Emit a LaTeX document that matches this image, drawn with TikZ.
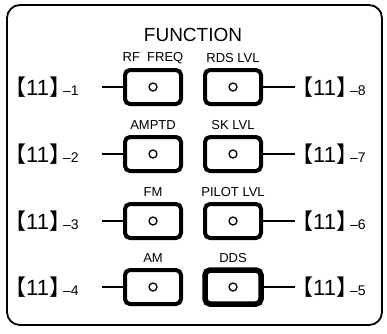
\documentclass[tikz,border=0pt]{standalone}
\usepackage{fontspec}
\setmainfont{Liberation Sans}
\newfontfamily\cjkfont{Noto Sans CJK SC}
\newcommand\reftag[1]{{\fontsize{22}{24}\selectfont{\cjkfont\kern-0.5em【}11{\cjkfont 】\kern-0.5em}}{\fontsize{14}{14}\selectfont\kern3pt–#1}}
\begin{document}
\begin{tikzpicture}[x=1pt,y=-1pt,
  btn/.style={draw,line width=4pt,rounded corners=5pt,minimum width=56pt,minimum height=34pt,inner sep=0pt},
  dot/.style={circle,draw,line width=1.3pt,minimum size=8pt,inner sep=0pt},
  blabel/.style={font=\fontsize{13}{14}\selectfont,inner sep=0pt},
  tagl/.style={anchor=west,inner sep=0pt},
  tagr/.style={anchor=west,inner sep=0pt},
  conn/.style={line width=1.3pt}]
\useasboundingbox (0,0) rectangle (387,333);
\draw[line width=1.8pt,rounded corners=13pt] (7,5) rectangle (382,325);
\node[font=\fontsize{19}{20}\selectfont,inner sep=0pt] (title) at (193,35) {FUNCTION};
\foreach \i/\y/\lab in {1/87/{RF\ \ FREQ},2/154/{AMPTD},3/221/{FM},4/287/{AM}}{
  \node[btn] (b\i) at (153,\y) {};
  \node[dot] (c\i) at (b\i.center) {};
  \node[blabel] (n\i) at (153,\y-29) {\lab};
  \node[tagl] (t\i) at (15,\y) {\reftag{\i}};
  \coordinate (s\i) at (102,\y);
  \draw[conn] (s\i) -- (b\i.west);
}
\foreach \i/\y/\lab/\w in {8/87/{RDS LVL}/4pt,7/154/{SK LVL}/4pt,6/221/{PILOT LVL}/4pt,5/287/{DDS}/5.5pt}{
  \node[btn,line width=\w] (b\i) at (233,\y) {};
  \node[dot] (c\i) at (b\i.center) {};
  \node[blabel] (n\i) at (233,\y-29) {\lab};
  \node[tagr] (t\i) at (302,\y) {\reftag{\i}};
  \coordinate (s\i) at (295,\y);
  \draw[conn] (b\i.east) -- (s\i);
}
\end{tikzpicture}
\end{document}
